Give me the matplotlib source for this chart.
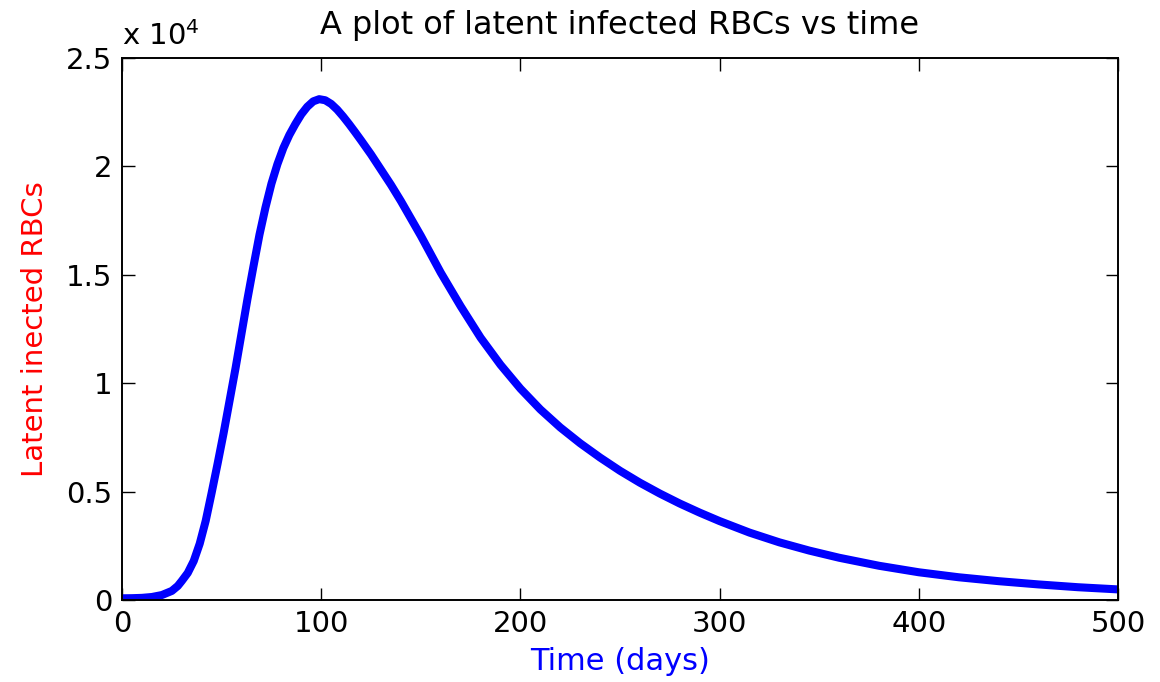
import matplotlib
matplotlib.use("Agg")
import matplotlib.pyplot as plt
from matplotlib.ticker import FuncFormatter

plt.rcParams['font.family'] = ['DejaVu Sans']

# latent infected RBC count sampled over the simulation (days)
days = [0, 5, 10, 15, 20, 25, 28, 30, 33, 36, 39, 42, 45, 48, 51, 54, 57,
        60, 63, 66, 69, 72, 75, 78, 81, 84, 87, 90, 93, 96, 99, 102, 105,
        108, 111, 114, 117, 120, 125, 130, 135, 140, 145, 150, 155, 160,
        170, 180, 190, 200, 210, 220, 230, 240, 250, 260, 270, 280, 290,
        300, 315, 330, 345, 360, 380, 400, 420, 440, 460, 480, 500]
latent_rbcs = [80, 85, 100, 140, 230, 420, 650, 880, 1250, 1800, 2600, 3650,
               4950, 6300, 7700, 9200, 10700, 12300, 13900, 15400, 16850,
               18100, 19200, 20100, 20850, 21450, 21950, 22400, 22750, 23000,
               23100, 23050, 22880, 22620, 22300, 21950, 21580, 21200, 20550,
               19850, 19150, 18400, 17600, 16800, 15950, 15100, 13550, 12100,
               10850, 9750, 8790, 7960, 7230, 6570, 5960, 5410, 4910, 4450,
               4030, 3640, 3110, 2660, 2280, 1950, 1580, 1280, 1050, 870, 720,
               590, 490]

xticks = [0, 100, 200, 300, 400, 500]
yticks = [0, 5000, 10000, 15000, 20000, 25000]

fig = plt.figure(figsize=(11.6, 6.82), dpi=100)
ax = fig.add_axes([0.1052, 0.1202, 0.8586, 0.7948])

ax.plot(days, latent_rbcs, color=(0, 0, 1), linewidth=5.8,
        solid_joinstyle='round', solid_capstyle='butt')

ax.set_xlim(0, 500)
ax.set_ylim(0, 25000)
ax.set_xticks(xticks)
ax.set_yticks(yticks)
ax.yaxis.set_major_formatter(FuncFormatter(lambda v, pos: "%g" % (v / 1e4)))

ax.tick_params(direction='in', length=9, width=1, top=True, right=True,
               labelsize=21, pad=7, colors='black')
for s in ax.spines.values():
    s.set_linewidth(1.4)

ax.text(0.0, 1.012, r"x 10$^{4}$", transform=ax.transAxes, fontsize=21,
        ha='left', va='bottom')

ax.set_title("A plot of latent infected RBCs vs time", fontsize=23, pad=17)
ax.set_xlabel("Time (days)", fontsize=22, color=(0, 0, 1), labelpad=7)
ax.set_ylabel("Latent inected RBCs", fontsize=21, color=(1, 0, 0), labelpad=12)

fig.savefig("out.png", dpi=100)
